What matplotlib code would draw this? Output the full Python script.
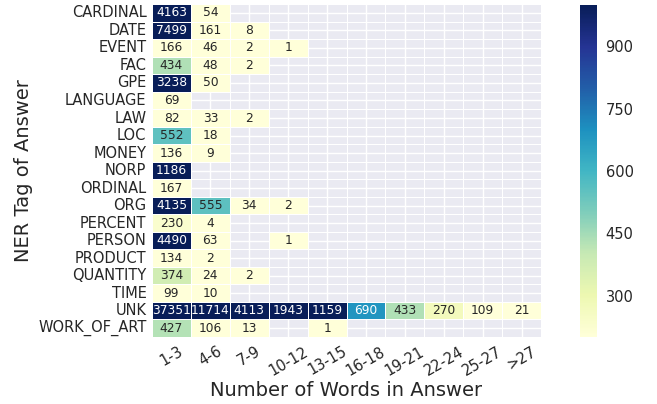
import matplotlib
matplotlib.use('Agg')
import matplotlib.pyplot as plt
import seaborn as sns
import numpy as np
import pandas as pd

nan = np.nan

tags = ['CARDINAL', 'DATE', 'EVENT', 'FAC', 'GPE', 'LANGUAGE', 'LAW', 'LOC',
        'MONEY', 'NORP', 'ORDINAL', 'ORG', 'PERCENT', 'PERSON', 'PRODUCT',
        'QUANTITY', 'TIME', 'UNK', 'WORK_OF_ART']
bins = ['1-3', '4-6', '7-9', '10-12', '13-15', '16-18', '19-21', '22-24', '25-27', '>27']

counts = [
    [4163, 54, nan, nan, nan, nan, nan, nan, nan, nan],
    [7499, 161, 8, nan, nan, nan, nan, nan, nan, nan],
    [166, 46, 2, 1, nan, nan, nan, nan, nan, nan],
    [434, 48, 2, nan, nan, nan, nan, nan, nan, nan],
    [3238, 50, nan, nan, nan, nan, nan, nan, nan, nan],
    [69, nan, nan, nan, nan, nan, nan, nan, nan, nan],
    [82, 33, 2, nan, nan, nan, nan, nan, nan, nan],
    [552, 18, nan, nan, nan, nan, nan, nan, nan, nan],
    [136, 9, nan, nan, nan, nan, nan, nan, nan, nan],
    [1186, nan, nan, nan, nan, nan, nan, nan, nan, nan],
    [167, nan, nan, nan, nan, nan, nan, nan, nan, nan],
    [4135, 555, 34, 2, nan, nan, nan, nan, nan, nan],
    [230, 4, nan, nan, nan, nan, nan, nan, nan, nan],
    [4490, 63, nan, 1, nan, nan, nan, nan, nan, nan],
    [134, 2, nan, nan, nan, nan, nan, nan, nan, nan],
    [374, 24, 2, nan, nan, nan, nan, nan, nan, nan],
    [99, 10, nan, nan, nan, nan, nan, nan, nan, nan],
    [37351, 11714, 4113, 1943, 1159, 690, 433, 270, 109, 21],
    [427, 106, 13, nan, 1, nan, nan, nan, nan, nan],
]

df = pd.DataFrame(counts, index=tags, columns=bins)

sns.set()

fig = plt.figure(figsize=(6.57, 4.04), dpi=100)
ax = fig.add_axes([0.2314, 0.1658, 0.592, 0.824])
cax = fig.add_axes([0.883, 0.1658, 0.026, 0.822])

sns.heatmap(df, ax=ax, cbar_ax=cax, cmap='YlGnBu', vmin=200, vmax=1000,
            annot=True, fmt='.0f', annot_kws={'size': 8.8}, linewidths=0.6,
            linecolor='white')

ax.set_xticklabels(bins, rotation=30, fontsize=10.5)
ax.set_yticklabels(tags, rotation=0, fontsize=10.5)
ax.tick_params(axis='x', length=0, pad=5)
ax.tick_params(axis='y', length=0, pad=4)
ax.set_xlabel('Number of Words in Answer', fontsize=14, labelpad=2)
ax.set_ylabel('NER Tag of Answer', fontsize=14)
cax.set_yticks([300, 450, 600, 750, 900])
cax.tick_params(labelsize=10.5, length=0, pad=6)

fig.savefig('out.png', dpi=100)
